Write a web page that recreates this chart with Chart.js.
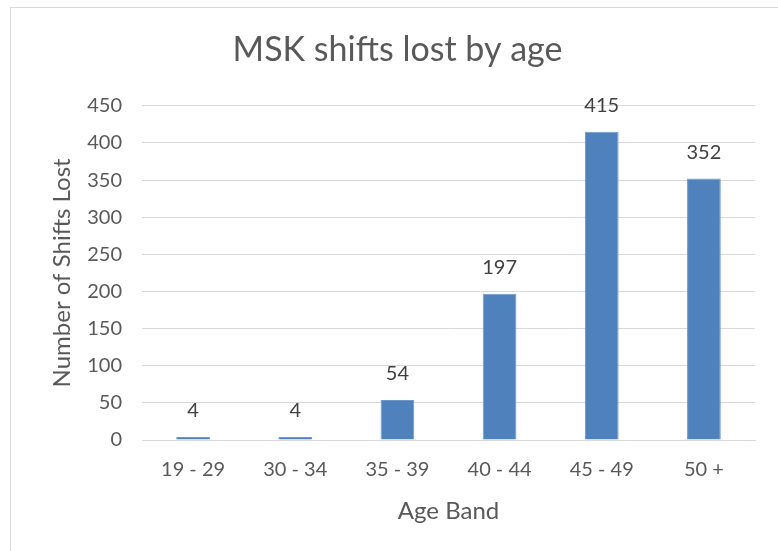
<!DOCTYPE html>
<html>
<head>
<meta charset="utf-8">
<script src="https://cdn.jsdelivr.net/npm/chart.js@4.4.0/dist/chart.umd.min.js"></script>
<style>
  html, body { margin: 0; padding: 0; background: #fff; }
  #wrap { width: 778px; height: 551px; }
</style>
</head>
<body>
<div id="wrap"><canvas id="mskChart" width="778" height="551"></canvas></div>
<script>
const ageBands = ['19 - 29', '30 - 34', '35 - 39', '40 - 44', '45 - 49', '50 +'];
const shiftsLost = [4, 4, 54, 197, 415, 352];
const yMax = 450;
const yStep = 50;

const textColor = '#595959';
const gridColor = '#d9d9d9';
const fontFamily = 'Lato, "Open Sans", sans-serif';

// white background + light frame like the Excel chart area
const frame = {
    id: 'frame',
    beforeDraw(chart) {
        const c = chart.ctx;
        c.save();
        c.fillStyle = '#fff';
        c.fillRect(0, 0, chart.width, chart.height);
        c.strokeStyle = gridColor;
        c.lineWidth = 1;
        c.strokeRect(10.5, 7.5, chart.width + 20, chart.height + 20);
        c.restore();
    }
};

// value labels above each bar
const valueLabels = {
    id: 'valueLabels',
    afterDatasetsDraw(chart) {
        const c = chart.ctx;
        const meta = chart.getDatasetMeta(0);
        c.save();
        c.font = '20px ' + fontFamily;
        c.fillStyle = '#404040';
        c.textAlign = 'center';
        c.textBaseline = 'middle';
        meta.data.forEach((bar, i) => {
            c.fillText(shiftsLost[i], bar.x, bar.y - 26);
        });
        c.restore();
    }
};

const ctx = document.getElementById('mskChart').getContext('2d');
new Chart(ctx, {
    type: 'bar',
    data: {
        labels: ageBands,
        datasets: [{
            label: 'Shifts lost',
            data: shiftsLost,
            backgroundColor: '#4f81bd',
            borderColor: '#6d97c9',
            borderWidth: 1,
            barPercentage: 0.33,
            categoryPercentage: 1
        }]
    },
    options: {
        responsive: false,
        animation: false,
        layout: {
            padding: { left: 40, right: 23, top: 0, bottom: 25 }
        },
        plugins: {
            legend: { display: false },
            tooltip: { enabled: false },
            title: {
                display: true,
                text: 'MSK shifts lost by age',
                color: textColor,
                font: { family: fontFamily, size: 34, weight: 'normal' },
                padding: { top: 30, bottom: 35 }
            }
        },
        scales: {
            x: {
                grid: { display: false, drawTicks: false },
                border: { display: true, color: gridColor },
                ticks: {
                    color: textColor,
                    font: { family: fontFamily, size: 20 },
                    padding: 18,
                    maxRotation: 0
                },
                title: {
                    display: true,
                    text: 'Age Band',
                    color: textColor,
                    font: { family: fontFamily, size: 24 },
                    padding: { top: 16, bottom: 0 }
                },
                // chart.js reserves 2x tick padding, pin the height instead
                afterFit(scale) { scale.height = 86; }
            },
            y: {
                min: 0,
                max: yMax,
                grid: { color: gridColor, drawTicks: false },
                border: { display: false },
                ticks: {
                    stepSize: yStep,
                    color: textColor,
                    font: { family: fontFamily, size: 20 },
                    padding: 20
                },
                title: {
                    display: true,
                    text: 'Number of Shifts Lost',
                    color: textColor,
                    font: { family: fontFamily, size: 24 },
                    padding: { top: 8, bottom: 12 }
                },
                afterFit(scale) { scale.width = 102; }
            }
        }
    },
    plugins: [frame, valueLabels]
});
</script>
</body>
</html>
